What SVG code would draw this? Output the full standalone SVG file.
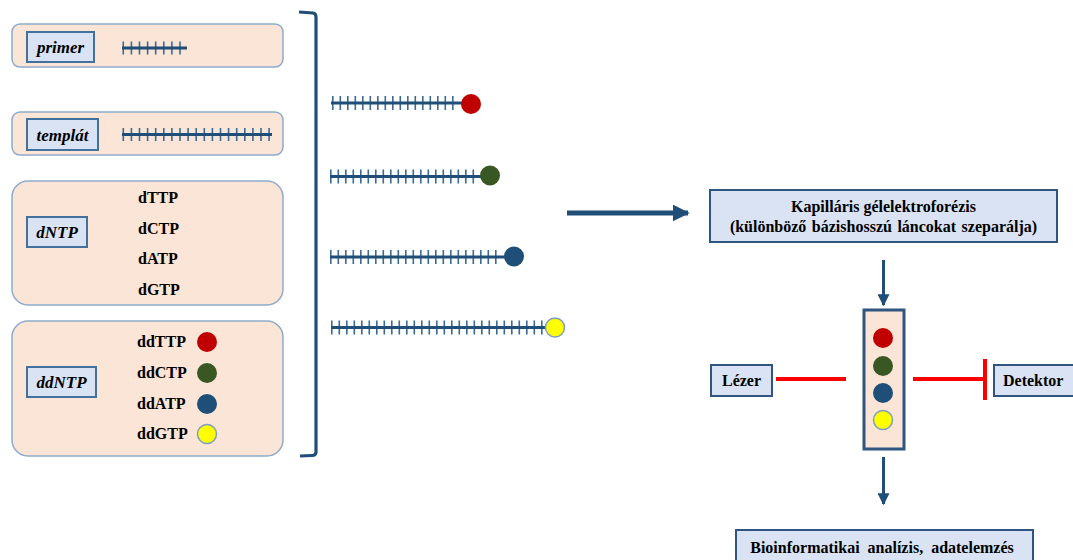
<svg xmlns="http://www.w3.org/2000/svg" width="1073" height="560" viewBox="0 0 1073 560">
  <style>
    .panel { fill: #fbe5d6; stroke: #8eaacb; stroke-width: 1.5; }
    .tag { fill: #dae3f3; stroke: #41719c; stroke-width: 2; }
    .box { fill: #dae3f3; stroke: #2f5580; stroke-width: 2; }
    .lbl { font-family: "Liberation Serif", "Times New Roman", serif; font-weight: bold; font-style: italic; font-size: 17px; fill: #000; }
    .txt { font-family: "Liberation Serif", "Times New Roman", serif; font-weight: bold; font-size: 16px; fill: #000; }
    .bb { stroke: #1f4e79; stroke-width: 3; fill: none; }
    .tk { stroke: #3a6a96; stroke-width: 14; stroke-dasharray: 1.6 5.9; fill: none; }
    .tkw { stroke: #3a6a96; stroke-width: 13; stroke-dasharray: 1.6 6.5; fill: none; }
    .red { fill: #c00000; }
    .grn { fill: #385723; }
    .blu { fill: #1f4e79; }
    .yel { fill: #ffff00; stroke: #7f9fbf; stroke-width: 1.5; }
    .flow { stroke: #1f4e79; fill: none; }
    .laser { stroke: #ff0000; stroke-width: 4; fill: none; }
  </style>
  <defs>
    <marker id="head" viewBox="0 0 10 10" refX="9" refY="5" markerWidth="3.4" markerHeight="3.4" markerUnits="strokeWidth" orient="auto">
      <path d="M0,0 L10,5 L0,10 Z" fill="#1f4e79"/>
    </marker>
    <marker id="headS" viewBox="0 0 10 10" refX="9" refY="5" markerWidth="4" markerHeight="4" markerUnits="strokeWidth" orient="auto">
      <path d="M0,0 L10,5 L0,10 Z" fill="#1f4e79"/>
    </marker>
  </defs>

  <!-- reaction components -->
  <g id="primer">
    <rect class="panel" x="12" y="24" width="271" height="43" rx="8"/>
    <rect class="tag" x="27" y="32" width="67" height="30"/>
    <text class="lbl" x="60.5" y="52.5" text-anchor="middle">primer</text>
    <line class="tkw" x1="122.5" y1="48" x2="183" y2="48"/>
    <line class="bb" x1="122" y1="48" x2="187" y2="48"/>
  </g>

  <g id="template">
    <rect class="panel" x="12" y="112" width="271" height="43" rx="8"/>
    <rect class="tag" x="27" y="119" width="71" height="31"/>
    <text class="lbl" x="62.5" y="140.5" text-anchor="middle">templát</text>
    <line class="tkw" x1="122.5" y1="134.5" x2="270" y2="134.5"/>
    <line class="bb" x1="122" y1="134.5" x2="272" y2="134.5"/>
  </g>

  <g id="dntp">
    <rect class="panel" x="12" y="181" width="271" height="124" rx="16"/>
    <rect class="tag" x="27" y="217" width="60" height="30"/>
    <text class="lbl" x="57" y="238" text-anchor="middle">dNTP</text>
    <text class="txt" x="138" y="203">dTTP</text>
    <text class="txt" x="138" y="234">dCTP</text>
    <text class="txt" x="138" y="264">dATP</text>
    <text class="txt" x="138" y="295">dGTP</text>
  </g>

  <g id="ddntp">
    <rect class="panel" x="12" y="321" width="271" height="135" rx="16"/>
    <rect class="tag" x="27" y="367" width="69" height="30"/>
    <text class="lbl" x="61.5" y="388" text-anchor="middle">ddNTP</text>
    <text class="txt" x="137" y="347">ddTTP</text>
    <text class="txt" x="137" y="378">ddCTP</text>
    <text class="txt" x="137" y="409">ddATP</text>
    <text class="txt" x="137" y="439">ddGTP</text>
    <circle class="red" cx="207" cy="342" r="10"/>
    <circle class="grn" cx="207" cy="373" r="10"/>
    <circle class="blu" cx="207" cy="404" r="10"/>
    <circle class="yel" cx="207" cy="434" r="9.5"/>
  </g>

  <g id="bracket">
    <path d="M299,12 L313,13 Q316,13.5 316,17 L316,452 Q316,455.5 312,455.5 L300,456" stroke="#1f4e79" stroke-width="3.2" fill="none"/>
  </g>

  <!-- terminated fragments of increasing length -->
  <g id="fragments">
    <line class="tk" x1="332" y1="103" x2="458" y2="103"/>
    <line class="bb" x1="331" y1="103" x2="464" y2="103"/>
    <circle class="red" cx="471" cy="104" r="10"/>

    <line class="tk" x1="330" y1="176.5" x2="478" y2="176.5"/>
    <line class="bb" x1="330" y1="176.5" x2="484" y2="176.5"/>
    <circle class="grn" cx="490" cy="175.5" r="10"/>

    <line class="tk" x1="330" y1="257" x2="500" y2="257"/>
    <line class="bb" x1="330" y1="257" x2="506" y2="257"/>
    <circle class="blu" cx="514" cy="256.5" r="10"/>

    <line class="tk" x1="331" y1="327.5" x2="543" y2="327.5"/>
    <line class="bb" x1="331" y1="327.5" x2="548" y2="327.5"/>
    <circle class="yel" cx="555" cy="327.5" r="9.5"/>
  </g>

  <!-- analysis steps -->
  <g id="electrophoresis">
    <rect class="box" x="710" y="190" width="347" height="52"/>
    <text class="txt" x="883.5" y="211.5" text-anchor="middle">Kapilláris gélelektroforézis</text>
    <text class="txt" x="883.5" y="232" text-anchor="middle" word-spacing="1.5">(különböző bázishosszú láncokat szeparálja)</text>
  </g>

  <g id="capillary">
    <rect x="864" y="310" width="40" height="139" fill="#fbe5d6" stroke="#2f5580" stroke-width="3"/>
    <circle class="red" cx="883" cy="338" r="10"/>
    <circle class="grn" cx="883" cy="366" r="10"/>
    <circle class="blu" cx="883" cy="393" r="10"/>
    <circle class="yel" cx="883" cy="420" r="9.5"/>
  </g>

  <g id="laser">
    <rect class="box" x="711" y="365" width="61" height="31"/>
    <text class="txt" x="741.5" y="386" text-anchor="middle">Lézer</text>
  </g>

  <g id="detector">
    <rect class="box" x="994" y="365" width="82" height="31"/>
    <text class="txt" x="1003" y="386">Detektor</text>
  </g>

  <g id="bioinformatics">
    <rect class="box" x="736" y="530" width="297" height="40"/>
    <text class="txt" x="882" y="553" text-anchor="middle" word-spacing="4">Bioinformatikai analízis, adatelemzés</text>
  </g>

  <g id="connectors">
    <line class="flow" x1="567" y1="213" x2="688" y2="213" stroke-width="5" marker-end="url(#head)"/>
    <line class="flow" x1="883.5" y1="260" x2="883.5" y2="305" stroke-width="3" marker-end="url(#headS)"/>
    <line class="flow" x1="883.5" y1="457" x2="883.5" y2="504" stroke-width="3" marker-end="url(#headS)"/>
    <line class="laser" x1="776" y1="379" x2="846" y2="379"/>
    <line class="laser" x1="913" y1="379" x2="985" y2="379"/>
    <line class="laser" x1="985" y1="359" x2="985" y2="400"/>
  </g>
</svg>
